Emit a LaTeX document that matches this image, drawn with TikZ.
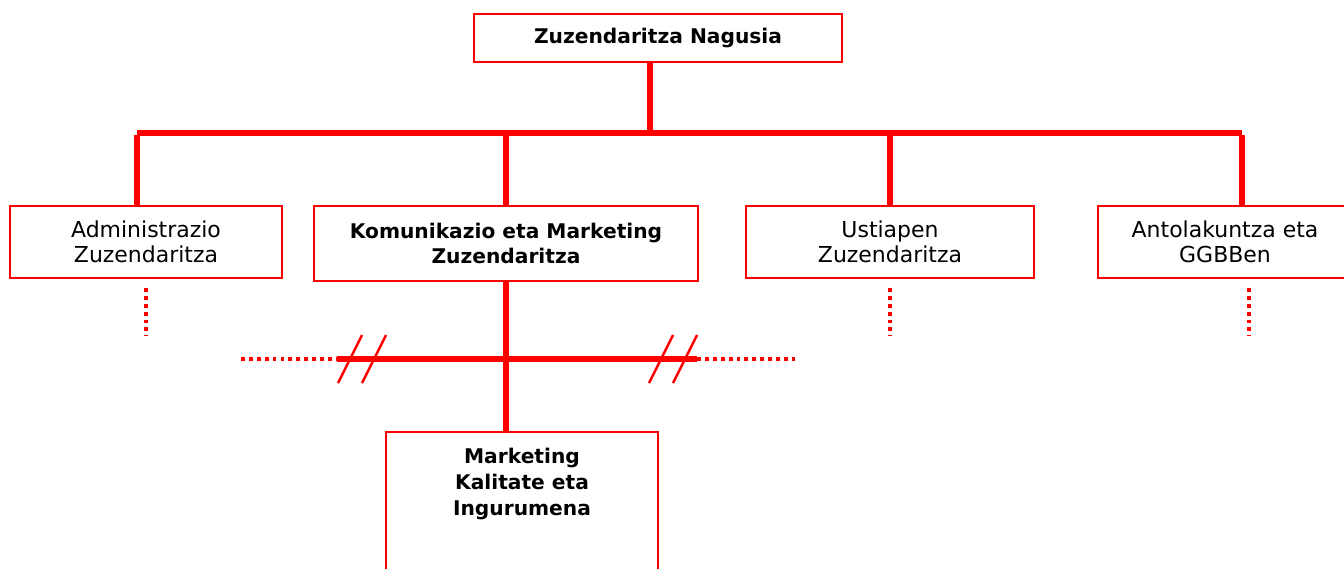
\documentclass[tikz,border=0pt]{standalone}
\usepackage{fontspec}
\setmainfont{DejaVu Sans}

\begin{document}
\begin{tikzpicture}[x=0.02cm, y=-0.02cm,
        unit/.style={draw=red, line width=1.1pt, align=center, inner sep=0pt,
          font=\fontsize{12.5}{14.5}\selectfont},
        headunit/.style={unit, font=\fontsize{11.5}{14.7}\selectfont\bfseries},
        trunk/.style={red, line width=3.3pt},
        dotline/.style={red, line width=2.2pt, dash pattern=on 2.2pt off 2.3pt},
        cut/.style={red, line width=1.4pt}]
        \useasboundingbox (0,0) rectangle (1344,568);

        % Directorate boxes
        \node[headunit, minimum width=7.36cm, minimum height=0.96cm] (nagusia) at (658,38) {Zuzendaritza Nagusia};
        \node[unit, minimum width=5.44cm, minimum height=1.44cm] (admin) at (146,242) {Administrazio\\Zuzendaritza};
        \node[headunit, minimum width=7.68cm, minimum height=1.5cm] (komun) at (506,243.5) {Komunikazio eta Marketing\\Zuzendaritza};
        \node[unit, minimum width=5.76cm, minimum height=1.44cm] (ustiapen) at (890,242) {Ustiapen\\Zuzendaritza};
        \node[unit, minimum width=5.08cm, minimum height=1.44cm] (antol) at (1225,242) {Antolakuntza eta\\GGBBen};

        % Marketing department (box runs past the bottom edge)
        \node[unit, minimum width=5.44cm, minimum height=3.2cm, anchor=north] (mkt) at (522,431) {};
        \node[font=\fontsize{11.5}{14.7}\selectfont\bfseries, align=center, anchor=north] (mkttext) at ([yshift=-0.22cm]mkt.north) {Marketing\\Kalitate eta\\Ingurumena};

        % Main bus
        \coordinate (bus) at (650,133);
        \coordinate (busL) at (137,133);
        \coordinate (busR) at (1242,133);
        \draw[trunk] (nagusia.south -| bus) -- (bus);
        \draw[trunk] (busL |- admin.north) -- ([yshift=-0.04cm]busL);
        \draw[trunk] (busL) -- (busR);
        \draw[trunk] ([yshift=-0.04cm]busR) -- (busR |- antol.north);
        \draw[trunk] (komun.north |- bus) -- (komun.north);
        \draw[trunk] (ustiapen.north |- bus) -- (ustiapen.north);

        % Dotted continuations
        \draw[dotline] ([yshift=-0.18cm]admin.south) -- ++(0,48);
        \draw[dotline] ([yshift=-0.18cm]ustiapen.south) -- ++(0,48);
        \draw[dotline] ([yshift=-0.18cm]antol.south -| 1249,0) -- ++(0,48);

        % Cross line under Komunikazio
        \coordinate (dl) at (241,359);
        \coordinate (cl) at (337,359);
        \coordinate (cr) at (697,359);
        \coordinate (dr) at (795,359);
        \draw[dotline] (dl) -- (cl);
        \draw[dotline] (cr) -- (dr);
        \draw[trunk] (cl) -- (cr);
        \draw[trunk] (komun.south) -- (komun.south |- mkt.north);

        % Break marks
        \foreach \x in {338,362,649,673}
          \draw[cut] (\x,383) -- ++(24,-48);
\end{tikzpicture}
\end{document}
